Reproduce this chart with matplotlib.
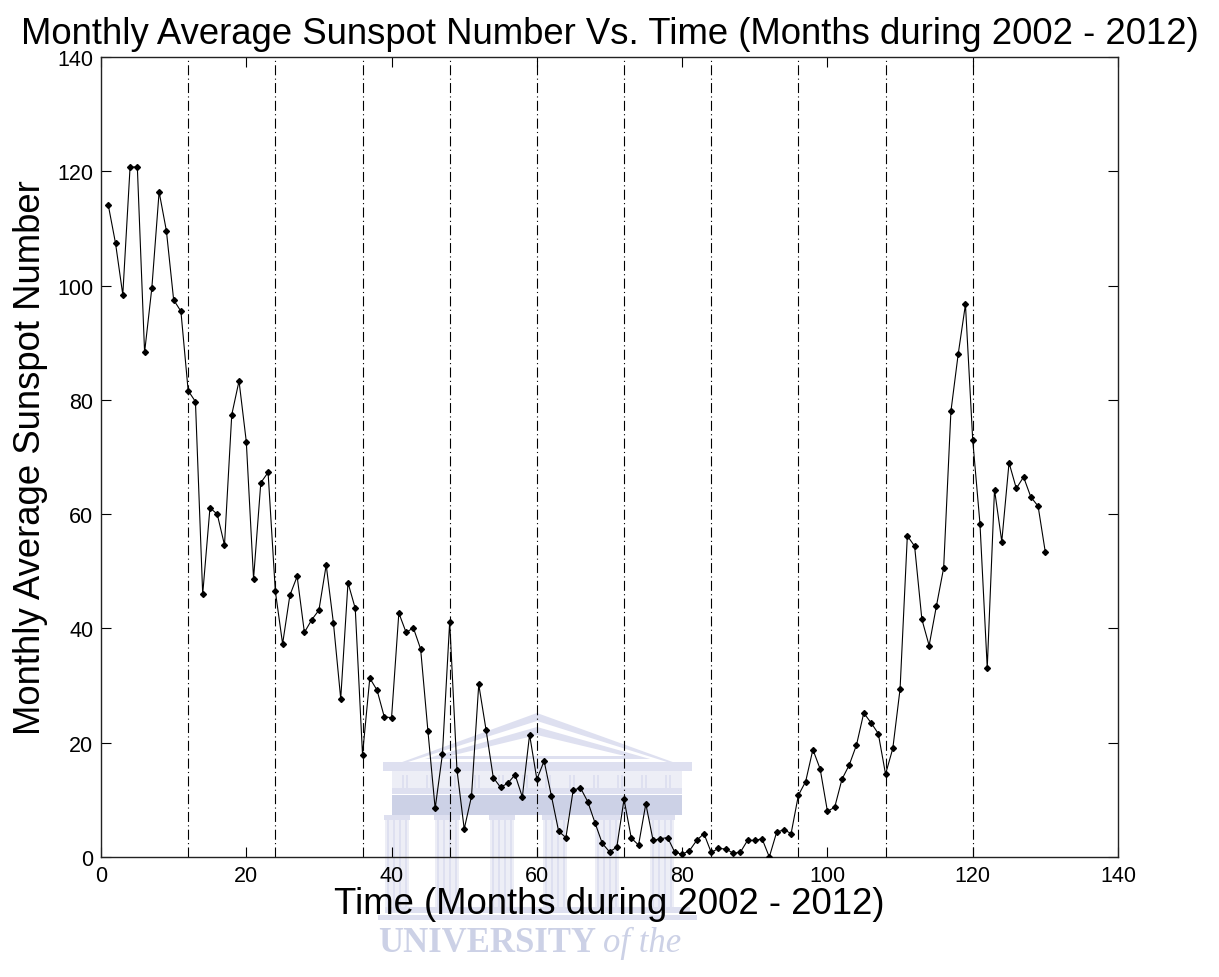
import matplotlib
matplotlib.use("Agg")
import matplotlib.pyplot as plt
from matplotlib.patches import Polygon, Rectangle
import numpy as np

# Monthly mean sunspot numbers, Jan 2002 - Oct 2012
sunspots_2002 = [114.1, 107.4, 98.4, 120.7, 120.8, 88.3, 99.6, 116.4, 109.6, 97.5, 95.5, 81.6]
sunspots_2003 = [79.7, 46.0, 61.1, 60.0, 54.6, 77.4, 83.3, 72.7, 48.7, 65.5, 67.3, 46.5]
sunspots_2004 = [37.3, 45.8, 49.1, 39.3, 41.5, 43.2, 51.1, 40.9, 27.7, 48.0, 43.5, 17.9]
sunspots_2005 = [31.3, 29.2, 24.5, 24.4, 42.7, 39.3, 40.1, 36.4, 22.1, 8.5, 18.0, 41.2]
sunspots_2006 = [15.3, 4.9, 10.6, 30.2, 22.3, 13.9, 12.2, 12.9, 14.4, 10.5, 21.4, 13.6]
sunspots_2007 = [16.8, 10.7, 4.5, 3.4, 11.7, 12.1, 9.7, 6.0, 2.4, 0.9, 1.7, 10.1]
sunspots_2008 = [3.3, 2.1, 9.3, 2.9, 3.2, 3.4, 0.8, 0.5, 1.1, 2.9, 4.1, 0.8]
sunspots_2009 = [1.5, 1.4, 0.7, 0.8, 2.9, 2.9, 3.2, 0.0, 4.3, 4.8, 4.1, 10.8]
sunspots_2010 = [13.2, 18.8, 15.4, 8.0, 8.7, 13.6, 16.1, 19.6, 25.2, 23.5, 21.6, 14.5]
sunspots_2011 = [19.0, 29.4, 56.2, 54.4, 41.6, 37.0, 43.9, 50.6, 78.0, 88.0, 96.7, 73.0]
sunspots_2012 = [58.3, 33.1, 64.3, 55.2, 69.0, 64.5, 66.5, 63.0, 61.4, 53.3]

year_boundaries = [12, 24, 36, 48, 60, 72, 84, 96, 108, 120]
x_ticks = [0, 20, 40, 60, 80, 100, 120, 140]
y_ticks = [0, 20, 40, 60, 80, 100, 120, 140]

sunspots = (sunspots_2002 + sunspots_2003 + sunspots_2004 + sunspots_2005 +
            sunspots_2006 + sunspots_2007 + sunspots_2008 + sunspots_2009 +
            sunspots_2010 + sunspots_2011 + sunspots_2012)
months = np.arange(1, len(sunspots) + 1)

plt.rcParams['font.family'] = ['Liberation Sans', 'DejaVu Sans']

W, H = 1219, 978
fig = plt.figure(figsize=(W / 100, H / 100), dpi=100)
fig.patch.set_facecolor('white')


def px(x, y):
    """Pixel position (from the top-left corner) to figure fraction."""
    return (x / W, 1 - y / H)


# faint institutional watermark behind the axes
wm_faint = (0.93, 0.935, 0.965)
wm_light = (0.87, 0.88, 0.94)
wm_mid = (0.80, 0.82, 0.90)


def fig_rect(x0, y0, x1, y1, color, z=-5):
    ax0, ay1 = px(x0, y0)
    ax1, ay0 = px(x1, y1)
    fig.patches.append(Rectangle((ax0, ay0), ax1 - ax0, ay1 - ay0,
                                 transform=fig.transFigure, facecolor=color,
                                 edgecolor='none', zorder=z))


def fig_poly(points, color, z=-5):
    fig.patches.append(Polygon([px(*p) for p in points], closed=True,
                               transform=fig.transFigure, facecolor=color,
                               edgecolor='none', zorder=z))


# pediment
fig_poly([(383, 770), (537, 714), (692, 770)], wm_light)
fig_poly([(408, 763), (537, 722), (667, 763)], 'white', z=-4.9)
fig_poly([(425, 760), (537, 728), (650, 760)], wm_light, z=-4.8)
fig_poly([(450, 757), (537, 736), (625, 757)], 'white', z=-4.7)
fig_rect(383, 763, 692, 772, wm_light)
# frieze with triglyph slits
fig_rect(392, 772, 682, 790, wm_faint)
for gx in np.linspace(405, 668, 12):
    fig_rect(gx - 3, 776, gx - 1, 789, wm_light)
    fig_rect(gx + 1, 776, gx + 3, 789, wm_light)
fig_rect(392, 789, 682, 795, wm_light)
# architrave
fig_rect(392, 796, 682, 816, wm_mid)
# columns
for cx in [397, 447, 502, 555, 607, 662]:
    fig_rect(cx - 12, 816, cx + 12, 910, wm_faint)
    for off in (-9, -3, 3, 9):
        fig_rect(cx + off - 1.2, 818, cx + off + 1.2, 908, wm_light)
    fig_rect(cx - 13, 816, cx + 13, 821, wm_light)
# base steps
fig_rect(385, 908, 690, 914, wm_light)
fig_rect(378, 916, 697, 921, wm_light)

fig.text(378 / W, 1 - 952 / H, 'UNIVERSITY', color=wm_mid,
         family=['Liberation Serif', 'DejaVu Serif'], weight='bold',
         fontsize=25, ha='left', va='baseline', zorder=-5)
fig.text(603 / W, 1 - 952 / H, 'of the', color=wm_mid,
         family=['Liberation Serif', 'DejaVu Serif'], style='italic',
         fontsize=25, ha='left', va='baseline', zorder=-5)

# main axes
l, r, b, t = 101 / W, 1118 / W, 1 - 858 / H, 1 - 58 / H
ax = fig.add_axes([l, b, r - l, t - b])
ax.patch.set_alpha(0.0)

for xb in year_boundaries:
    ax.axvline(xb, color='black', linewidth=0.8, linestyle=(0, (9, 3, 1, 3)), zorder=1)

ax.plot(months, sunspots, color='black', linewidth=0.8, marker='D',
        markersize=3.0, markerfacecolor='black', markeredgecolor='black', zorder=3)

ax.set_xlim(0, 140)
ax.set_ylim(0, 140)
ax.set_xticks(x_ticks)
ax.set_yticks(y_ticks)
ax.tick_params(direction='in', length=7, width=0.8, top=True, right=True,
               labelsize=15.5, pad=5.5, colors='black')
for s in ax.spines.values():
    s.set_linewidth(1.0)
    s.set_color('#222222')

ax.set_title('Monthly Average Sunspot Number Vs. Time (Months during 2002 - 2012)',
             fontsize=26.3, pad=10)
ax.set_xlabel('Time (Months during 2002 - 2012)', fontsize=26.3, labelpad=0)
ax.set_ylabel('Monthly Average Sunspot Number', fontsize=26.3, labelpad=7)

fig.savefig('out.png', dpi=100, facecolor='white')
